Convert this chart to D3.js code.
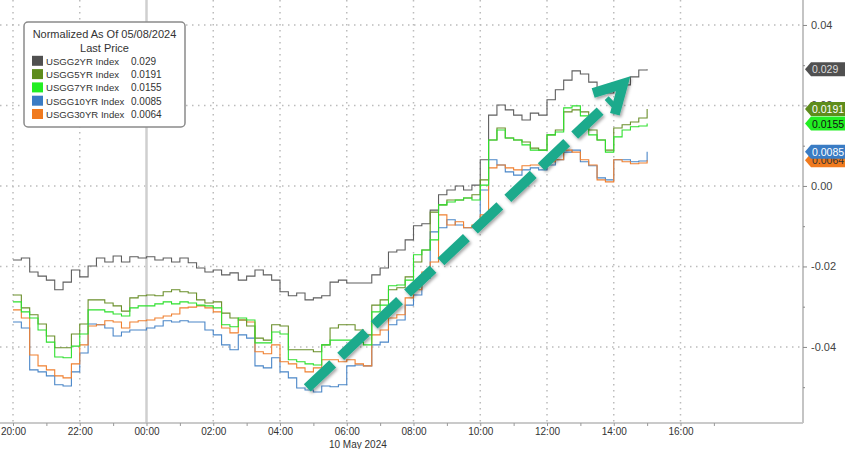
<!DOCTYPE html>
<html><head><meta charset="utf-8">
<script src="https://d3js.org/d3.v7.min.js"></script>
<style>
body{margin:0;background:#fff}
svg{display:block}
text{font-family:"Liberation Sans",Arial,sans-serif}
</style></head>
<body><svg id="c" width="848" height="449"></svg>
<script>
// ---- data (15-minute steps starting 2024-05-09 20:00) ----
const seriesNames = ["USGG2YR Index","USGG5YR Index","USGG7YR Index","USGG10YR Index","USGG30YR Index"];
const lastPrices = ["0.029","0.0191","0.0155","0.0085","0.0064"];
const lastValues = [0.029,0.0191,0.0155,0.0085,0.0064];

const usgg2yr = [-0.0184,-0.0179,-0.0214,-0.0224,-0.0234,-0.0258,-0.0239,-0.0209,-0.0226,-0.0199,
-0.0179,-0.0189,-0.0174,-0.0189,-0.0176,-0.0179,-0.0176,-0.0184,-0.0179,-0.0189,
-0.0179,-0.0191,-0.0204,-0.0214,-0.0209,-0.0221,-0.0216,-0.0234,-0.0224,-0.0209,
-0.0221,-0.0234,-0.0263,-0.0273,-0.0266,-0.0283,-0.0278,-0.0273,-0.0239,-0.0234,
-0.0241,-0.0241,-0.0241,-0.0221,-0.0204,-0.0164,-0.0159,-0.0134,-0.0099,-0.0094,
-0.0060,-0.0022,-0.0010,0.0000,-0.0010,0.0002,0.0065,0.0176,0.0201,0.0189,
0.0176,0.0164,0.0181,0.0176,0.0214,0.0239,0.0263,0.0286,0.0278,0.0258,
0.0239,0.0231,0.0243,0.0251,0.0271,0.0288,0.0290];

const usgg5yr = [-0.0271,-0.0303,-0.0320,-0.0343,-0.0373,-0.0402,-0.0402,-0.0368,-0.0343,-0.0283,
-0.0283,-0.0291,-0.0298,-0.0311,-0.0278,-0.0273,-0.0271,-0.0273,-0.0263,-0.0258,
-0.0263,-0.0266,-0.0283,-0.0291,-0.0288,-0.0316,-0.0328,-0.0333,-0.0348,-0.0378,
-0.0383,-0.0345,-0.0348,-0.0407,-0.0407,-0.0407,-0.0412,-0.0395,-0.0353,-0.0345,
-0.0345,-0.0358,-0.0370,-0.0296,-0.0283,-0.0258,-0.0253,-0.0226,-0.0189,-0.0159,
-0.0065,-0.0047,-0.0035,-0.0035,-0.0030,-0.0022,0.0015,0.0114,0.0144,0.0119,
0.0114,0.0109,0.0094,0.0089,0.0127,0.0139,0.0184,0.0189,0.0184,0.0139,
0.0114,0.0089,0.0144,0.0152,0.0159,0.0169,0.0191];

const usgg7yr = [-0.0288,-0.0313,-0.0328,-0.0358,-0.0388,-0.0425,-0.0427,-0.0398,-0.0368,-0.0308,
-0.0308,-0.0313,-0.0318,-0.0323,-0.0303,-0.0298,-0.0298,-0.0293,-0.0288,-0.0293,
-0.0288,-0.0291,-0.0296,-0.0298,-0.0303,-0.0345,-0.0350,-0.0328,-0.0333,-0.0390,
-0.0390,-0.0363,-0.0368,-0.0432,-0.0437,-0.0442,-0.0445,-0.0395,-0.0383,-0.0383,
-0.0383,-0.0388,-0.0395,-0.0313,-0.0296,-0.0248,-0.0246,-0.0234,-0.0171,-0.0159,
-0.0134,-0.0047,-0.0040,-0.0035,-0.0030,-0.0035,0.0002,0.0114,0.0139,0.0119,
0.0114,0.0102,0.0089,0.0089,0.0127,0.0134,0.0194,0.0199,0.0174,0.0127,
0.0114,0.0084,0.0122,0.0139,0.0147,0.0149,0.0155];

const usgg10yr = [-0.0338,-0.0353,-0.0457,-0.0462,-0.0472,-0.0494,-0.0497,-0.0462,-0.0415,-0.0343,
-0.0345,-0.0353,-0.0373,-0.0363,-0.0358,-0.0358,-0.0353,-0.0348,-0.0335,-0.0338,
-0.0335,-0.0338,-0.0338,-0.0358,-0.0370,-0.0395,-0.0407,-0.0370,-0.0378,-0.0447,
-0.0452,-0.0427,-0.0462,-0.0477,-0.0502,-0.0507,-0.0512,-0.0497,-0.0499,-0.0494,
-0.0447,-0.0445,-0.0447,-0.0395,-0.0388,-0.0345,-0.0333,-0.0296,-0.0271,-0.0229,
-0.0114,-0.0104,-0.0084,-0.0097,-0.0104,-0.0104,-0.0010,0.0065,0.0052,0.0035,
0.0027,0.0040,0.0045,0.0040,0.0052,0.0065,0.0084,0.0089,0.0060,0.0050,
0.0020,0.0015,0.0065,0.0065,0.0060,0.0062,0.0085];

const usgg30yr = [-0.0308,-0.0328,-0.0420,-0.0447,-0.0457,-0.0472,-0.0477,-0.0442,-0.0395,-0.0348,
-0.0345,-0.0335,-0.0338,-0.0353,-0.0338,-0.0335,-0.0333,-0.0328,-0.0323,-0.0318,
-0.0303,-0.0301,-0.0298,-0.0303,-0.0313,-0.0353,-0.0365,-0.0333,-0.0338,-0.0412,
-0.0417,-0.0395,-0.0437,-0.0442,-0.0452,-0.0462,-0.0452,-0.0432,-0.0432,-0.0437,
-0.0432,-0.0442,-0.0447,-0.0370,-0.0358,-0.0328,-0.0320,-0.0278,-0.0258,-0.0214,
-0.0189,-0.0072,-0.0097,-0.0089,-0.0104,-0.0097,-0.0072,0.0045,0.0052,0.0045,
0.0040,0.0050,0.0052,0.0052,0.0060,0.0065,0.0089,0.0084,0.0065,0.0052,
0.0015,0.0010,0.0065,0.0060,0.0055,0.0057,0.0064];

const yTickValues = [0.04,0.02,0.00,-0.02,-0.04];
const yTickLabels = ["0.04","0.02","0.00","-0.02","-0.04"];
const dateLabel = "10 May 2024";
const legendTitle = ["Normalized As Of 05/08/2024","Last Price"];

// arrow annotation in data coordinates [time, value]
const arrowShaft = [[new Date(2024,4,10,4,49), -0.0502],[new Date(2024,4,10,13,57), 0.0214]];
const arrowHead = [[new Date(2024,4,10,13,23), 0.0231],[new Date(2024,4,10,14,17), 0.0254],[new Date(2024,4,10,14,2), 0.0178]];

// ---- styles ----
const lineColors = ["#5e5e5e","#6a8f2a","#2ee02e","#4a86c8","#f08030"];
const swatchColors = ["#505050","#5e8c1c","#22ee22","#3a7cc4","#f07a1e"];
const tagText = ["#dddddd","#ffffff","#111111","#ffffff","#333333"];

const times = d3.range(usgg2yr.length).map(i => new Date(2024,4,9,20,15*i));
const allSeries = [usgg2yr, usgg5yr, usgg7yr, usgg10yr, usgg30yr];

const svg = d3.select("#c");
const plotRight = 803, plotBottom = 423;

const x = d3.scaleTime().domain([new Date(2024,4,9,20), new Date(2024,4,10,16)]).range([13, 680.5]);
const y = d3.scaleLinear().domain([-0.0589, 0.0462]).range([plotBottom, 0]);

// gridlines
const grid = svg.append("g");
grid.selectAll("line.h").data(yTickValues).join("line")
  .attr("x1", 0).attr("x2", plotRight)
  .attr("y1", d => y(d)).attr("y2", d => y(d))
  .attr("stroke", "#bcbcbc").attr("stroke-width", 1.5).attr("stroke-dasharray", "1.5,4.5");
const evenHours = d3.range(0, 11).map(i => new Date(2024,4,9,20 + 2*i));
grid.selectAll("line.v").data(evenHours).join("line")
  .attr("x1", d => x(d)).attr("x2", d => x(d))
  .attr("y1", 0).attr("y2", plotBottom)
  .attr("stroke", d => d.getHours() === 0 ? "#cfcfcf" : "#bcbcbc")
  .attr("stroke-width", d => d.getHours() === 0 ? 2.5 : 1.5)
  .attr("stroke-dasharray", d => d.getHours() === 0 ? null : "1.5,4.5");

// axes lines
svg.append("line").attr("x1", 0).attr("x2", plotRight).attr("y1", plotBottom).attr("y2", plotBottom)
  .attr("stroke", "#b8b8b8").attr("stroke-width", 1.5);
svg.append("line").attr("x1", plotRight).attr("x2", plotRight).attr("y1", 0).attr("y2", plotBottom)
  .attr("stroke", "#c4c4c4").attr("stroke-width", 2);

// bottom axis
const hourTicks = d3.range(0, 22).map(i => new Date(2024,4,9,20 + i));
const xAxis = d3.axisBottom(x).tickValues(hourTicks).tickSize(3).tickPadding(2)
  .tickFormat(d => (d.getHours() % 2 === 0 && d <= new Date(2024,4,10,16)) ? d3.timeFormat("%H:%M")(d) : "");
const gx = svg.append("g").attr("transform", `translate(0,${plotBottom})`).call(xAxis);
gx.select(".domain").remove();
gx.selectAll(".tick line").attr("stroke", "#999");
gx.selectAll(".tick text").attr("fill", "#333").style("font-size", "10px");
svg.append("text").attr("x", x(new Date(2024,4,10,6,20))).attr("y", 448)
  .attr("text-anchor", "middle").attr("fill", "#333").style("font-size", "10px").text(dateLabel);

// right axis
const rightTicks = d3.range(-5, 5).map(i => i / 100);
const yAxis = d3.axisRight(y).tickValues(rightTicks).tickSize(4).tickPadding(4)
  .tickFormat(d => { const k = yTickValues.findIndex(v => Math.abs(v - d) < 1e-9); return k >= 0 ? yTickLabels[k] : ""; });
const gy = svg.append("g").attr("transform", `translate(${plotRight},0)`).call(yAxis);
gy.select(".domain").remove();
gy.selectAll(".tick line").attr("stroke", "#888")
  .attr("x2", d => yTickValues.some(v => Math.abs(v - d) < 1e-9) ? 4 : 2);
gy.selectAll(".tick text").attr("fill", "#444").style("font-size", "11px");

// series lines
const line = d3.line().x((d, i) => x(times[i])).y(d => y(d)).curve(d3.curveStepAfter);
const drawOrder = [0, 3, 4, 1, 2];
svg.append("g").selectAll("path").data(drawOrder).join("path")
  .attr("d", k => line(allSeries[k]))
  .attr("fill", "none").attr("stroke", k => lineColors[k]).attr("stroke-width", 1.1);

// last-price tags
const tagOrder = [4, 3, 2, 1, 0];
const tags = svg.append("g").selectAll("g").data(tagOrder).join("g")
  .attr("transform", k => `translate(0,${y(lastValues[k])})`);
tags.append("path").attr("d", "M805,0 L811,-7 L845,-7 L845,7 L811,7 Z")
  .attr("fill", k => swatchColors[k]);
tags.append("text").attr("x", 812).attr("y", 4).attr("fill", k => tagText[k])
  .style("font-size", "10.5px").text(k => lastPrices[k]);

// legend
const lg = svg.append("g");
lg.append("rect").attr("x", 24).attr("y", 22).attr("width", 161).attr("height", 105).attr("rx", 4)
  .attr("fill", "#fff").attr("stroke", "#8a8a8a").attr("stroke-width", 1.5);
lg.selectAll("text.t").data(legendTitle).join("text")
  .attr("x", 104.5).attr("y", (d, i) => 38 + i * 14).attr("text-anchor", "middle")
  .attr("fill", "#333").style("font-size", "11px").text(d => d);
const rows = lg.selectAll("g.row").data(seriesNames).join("g")
  .attr("transform", (d, i) => `translate(0,${60.8 + i * 13.3})`);
rows.append("rect").attr("x", 32).attr("y", -5).attr("width", 11).attr("height", 10)
  .attr("fill", (d, i) => swatchColors[i]);
rows.append("text").attr("x", 46).attr("y", 4).attr("fill", "#333").style("font-size", "9.6px").text(d => d);
rows.append("text").attr("x", 131).attr("y", 4).attr("fill", "#333").style("font-size", "10px")
  .text((d, i) => lastPrices[i]);

// arrow annotation
const defs = svg.append("defs");
const f = defs.append("filter").attr("id", "sh").attr("x", "-20%").attr("y", "-20%").attr("width", "140%").attr("height", "140%");
f.append("feDropShadow").attr("dx", 1.5).attr("dy", 2).attr("stdDeviation", 1.5).attr("flood-color", "#000").attr("flood-opacity", 0.35);
const arrow = svg.append("g").attr("filter", "url(#sh)");
arrow.append("line")
  .attr("x1", x(arrowShaft[0][0])).attr("y1", y(arrowShaft[0][1]))
  .attr("x2", x(arrowShaft[1][0])).attr("y2", y(arrowShaft[1][1]))
  .attr("stroke", "#1faa8c").attr("stroke-width", 10).attr("stroke-dasharray", "35,11");
arrow.append("path")
  .attr("d", d3.line().x(d => x(d[0])).y(d => y(d[1]))(arrowHead))
  .attr("fill", "none").attr("stroke", "#1faa8c").attr("stroke-width", 10)
  .attr("stroke-linejoin", "miter").attr("stroke-miterlimit", 4);
</script></body></html>
